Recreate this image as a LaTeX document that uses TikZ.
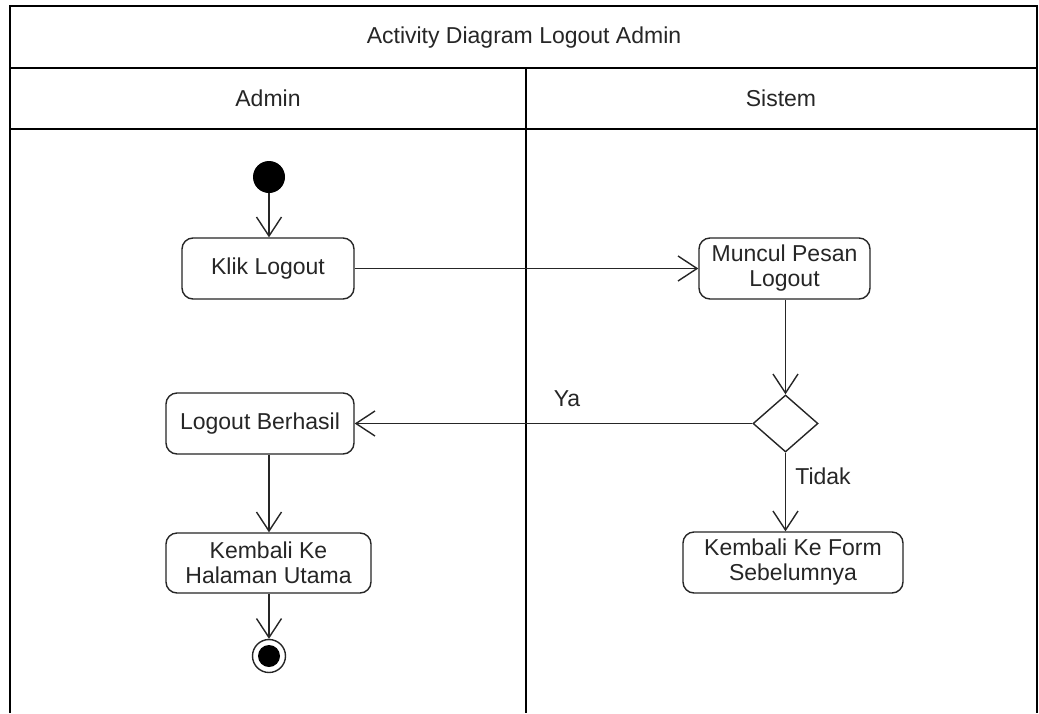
\documentclass[tikz,border=0pt]{standalone}
\usepackage{fontspec}
\setmainfont{Liberation Sans}
\usetikzlibrary{arrows.meta,shapes.geometric,calc}
\tikzset{
  act/.style={draw=black!85, line width=1.4pt, rounded corners=11pt, align=center,
    inner sep=0pt, font=\fontsize{23}{25}\selectfont, text=black!85},
  frameline/.style={draw=black, line width=2.6pt},
  flow/.style={draw=black!85, line width=1.4pt, -{Straight Barb[length=19pt,width=25pt,line width=1.4pt]}},
  lbl/.style={font=\fontsize{23}{25}\selectfont, text=black!85, inner sep=0pt},
}
\begin{document}
\begin{tikzpicture}[x=1pt,y=-1pt]
\useasboundingbox (0,0) rectangle (1039,713);
\fill[white] (0,0) rectangle (1039,713);
% frame
\draw[frameline] (10,713) -- (10,6) -- (1037,6) -- (1037,713);
\draw[frameline] (10,68) -- (1037,68);
\draw[frameline] (10,129) -- (1037,129);
\draw[frameline] (526,68) -- (526,713);
\node[lbl] (title) at (524,38) {Activity Diagram Logout Admin};
\node[lbl] (hadmin) at (268,98) {Admin};
\node[lbl] (hsistem) at (781,98) {Sistem};
% nodes
\node[circle, fill=black, minimum size=32pt, inner sep=0pt] (st) at (269,177) {};
\node[act, minimum width=172pt, minimum height=61pt] (kl) at (268,268.5) {Klik Logout};
\node[act, minimum width=171pt, minimum height=61pt] (mp) at (784.5,268.5) {Muncul Pesan\\Logout};
\node[diamond, draw=black!85, line width=1.4pt, minimum width=65pt, minimum height=57pt, inner sep=0pt] (dec) at (785.5,423.5) {};
\node[act, minimum width=188pt, minimum height=61pt] (lb) at (260,423.5) {Logout Berhasil};
\node[act, minimum width=205pt, minimum height=60pt] (kh) at (268.5,563) {Kembali Ke\\Halaman Utama};
\node[act, minimum width=220pt, minimum height=61pt] (kf) at (793,562.5) {Kembali Ke Form\\Sebelumnya};
\node[circle, draw=black!85, line width=1.4pt, minimum size=33pt, inner sep=0pt] (en) at (269,656) {};
\node[circle, fill=black, minimum size=22pt, inner sep=0pt] (enin) at (en) {};
% labels
\node[lbl] (ya) at (567,399) {Ya};
\node[lbl] (tidak) at (823,476) {Tidak};
% flows
\draw[flow] (st) -- (kl.north -| st);
\draw[flow] (kl.east) -- (mp.west |- kl.east);
\draw[flow] (mp.south -| dec) -- (dec.north);
\draw[flow] (dec.west) -- (lb.east |- dec.west);
\draw[flow] (dec.south) -- (kf.north -| dec);
\draw[flow] (lb.south -| st) -- (kh.north -| st);
\draw[flow] (kh.south -| st) -- (en.north);
\end{tikzpicture}
\end{document}
